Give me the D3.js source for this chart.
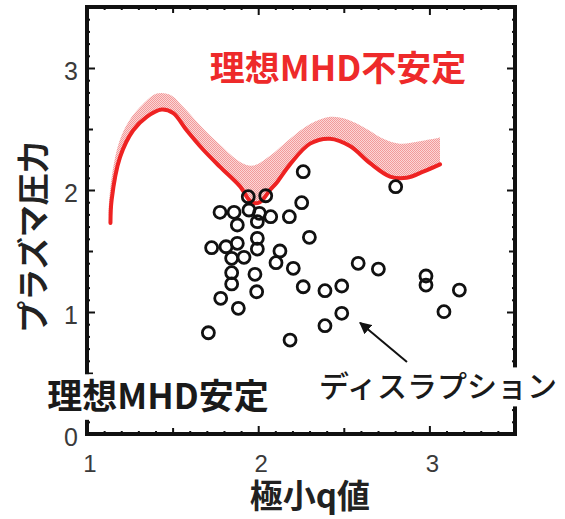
<!DOCTYPE html>
<html><head><meta charset="utf-8">
<script src="https://cdn.jsdelivr.net/npm/d3@7"></script>
<style>body{margin:0;background:#fff}svg{display:block}</style>
</head><body>
<svg id="c" width="565" height="519"></svg>
<script>
// ---- data ----
const lineQ = [1.137, 1.144, 1.193, 1.270, 1.349, 1.436, 1.504, 1.582, 1.679, 1.777, 1.894, 1.960, 2.010, 2.069, 2.108, 2.186, 2.303, 2.419, 2.536, 2.653, 2.770, 2.867, 2.964, 3.062];
const lineP = [1.73, 1.92, 2.27, 2.49, 2.60, 2.66, 2.63, 2.49, 2.33, 2.19, 2.03, 1.90, 1.90, 2.00, 2.06, 2.21, 2.38, 2.42, 2.36, 2.22, 2.11, 2.10, 2.15, 2.21];
const bandQ = [1.137, 1.127, 1.131, 1.150, 1.189, 1.247, 1.325, 1.407, 1.485, 1.563, 1.660, 1.777, 1.894, 1.971, 2.069, 2.186, 2.303, 2.419, 2.517, 2.634, 2.731, 2.828, 2.945, 3.062];
const bandP = [1.73, 1.80, 1.94, 2.16, 2.40, 2.57, 2.70, 2.79, 2.78, 2.68, 2.53, 2.37, 2.23, 2.20, 2.28, 2.42, 2.54, 2.60, 2.58, 2.50, 2.42, 2.38, 2.40, 2.43];
const shotQ = [2.263, 1.942, 2.044, 2.254, 1.777, 1.859, 1.946, 2.007, 2.073, 2.182, 1.878, 1.995, 2.299, 1.728, 1.812, 1.878, 1.995, 1.995, 1.845, 1.917, 2.127, 2.104, 2.205, 1.845, 1.981, 1.845, 1.991, 2.263, 2.390, 2.488, 1.781, 1.884, 2.488, 2.390, 1.709, 2.186, 2.584, 2.702, 2.803, 2.980, 2.980, 3.175, 3.085];
const shotP = [2.150, 1.945, 1.953, 1.896, 1.817, 1.817, 1.836, 1.809, 1.781, 1.781, 1.713, 1.740, 1.612, 1.527, 1.535, 1.563, 1.604, 1.516, 1.440, 1.448, 1.500, 1.404, 1.358, 1.322, 1.309, 1.230, 1.166, 1.207, 1.175, 1.213, 1.112, 1.030, 0.989, 0.888, 0.830, 0.770, 1.399, 1.352, 2.027, 1.295, 1.221, 1.180, 1.003];
const xTickLabels = ["1", "2", "3"];
const yTickLabels = ["0", "1", "2", "3"];
const xTitle = "極小q値";
const yTitle = "プラズマ圧力";
const unstableLabel = "理想MHD不安定";
const stableLabel = "理想MHD安定";
const disruptLabel = "ディスラプション";
const arrowQ = [2.869, 2.595];
const arrowP = [0.590, 0.912];

// ---- layout ----
const L = 87, T = 7, W = 428, H = 427;
const svg = d3.select("#c");
const x = d3.scaleLinear().domain([1, 3.5]).range([L, L + W]);
const y = d3.scaleLinear().domain([0, 3.5]).range([T + H, T]);

const defs = svg.append("defs");
const pat = defs.append("pattern").attr("id", "hatch").attr("width", 2).attr("height", 2).attr("patternUnits", "userSpaceOnUse");
pat.append("rect").attr("width", 2).attr("height", 2).attr("fill", "#fbd6d6");
pat.append("rect").attr("width", 1).attr("height", 1).attr("fill", "#f29a9a");
pat.append("rect").attr("x", 1).attr("y", 1).attr("width", 1).attr("height", 1).attr("fill", "#f29a9a");
defs.append("marker").attr("id", "ah").attr("viewBox", "0 0 10 10").attr("refX", 9).attr("refY", 5)
  .attr("markerWidth", 6).attr("markerHeight", 6).attr("orient", "auto")
  .append("path").attr("d", "M0,0L10,5L0,10z").attr("fill", "#111");

const linePts = lineQ.map((q, i) => [x(q), y(lineP[i])]);
const bandPts = bandQ.map((q, i) => [x(q), y(bandP[i])]);
const gen = d3.line().curve(d3.curveCatmullRom.alpha(0.5));
const up = gen(bandPts);
const lowRev = gen(linePts.slice().reverse()).replace(/^M/, "L");
svg.append("path").attr("d", up + lowRev + "Z").attr("fill", "url(#hatch)").attr("stroke", "none");
svg.append("path").attr("d", gen(linePts)).attr("fill", "none").attr("stroke", "#ee2222").attr("stroke-width", 4).attr("stroke-linecap", "round");

// points
svg.append("g").selectAll("circle").data(shotQ.map((q, i) => [q, shotP[i]])).join("circle")
  .attr("cx", d => x(d[0])).attr("cy", d => y(d[1])).attr("r", 6)
  .attr("fill", "none").attr("stroke", "#111").attr("stroke-width", 2.8);

// axes with inward ticks
function tlen(v) {
  const r1 = Math.abs(v - Math.round(v)) < 1e-6;
  const r5 = Math.abs(v * 2 - Math.round(v * 2)) < 1e-6;
  return r1 ? 8 : (r5 ? 6 : 3);
}
const xt = d3.range(10, 36).map(v => v / 10);
const yt = d3.range(0, 36).map(v => v / 10);
function styleAxis(g, horiz, sign) {
  g.select(".domain").remove();
  g.selectAll("text").remove();
  g.selectAll(".tick line").each(function(d) {
    const s = d3.select(this);
    if (horiz) s.attr("y2", sign * tlen(d)); else s.attr("x2", sign * tlen(d));
  }).attr("stroke", "#111").attr("stroke-width", 2);
}
svg.append("g").attr("transform", `translate(0,${T + H})`).call(d3.axisBottom(x).tickValues(xt)).call(g => styleAxis(g, true, -1));
svg.append("g").attr("transform", `translate(0,${T})`).call(d3.axisTop(x).tickValues(xt)).call(g => styleAxis(g, true, 1));
svg.append("g").attr("transform", `translate(${L},0)`).call(d3.axisLeft(y).tickValues(yt)).call(g => styleAxis(g, false, 1));
svg.append("g").attr("transform", `translate(${L + W},0)`).call(d3.axisRight(y).tickValues(yt)).call(g => styleAxis(g, false, -1));
svg.append("rect").attr("x", L).attr("y", T).attr("width", W).attr("height", H)
  .attr("fill", "none").attr("stroke", "#111").attr("stroke-width", 4);

// tick labels
const tf = "'Liberation Sans', Arial, sans-serif";
svg.append("g").selectAll("text").data(xTickLabels).join("text")
  .attr("x", d => x(+d) + 3).attr("y", 464).attr("dy", "0.35em").attr("text-anchor", "middle")
  .attr("font-family", tf).attr("font-size", 24).attr("fill", "#3a3a3a").text(d => d);
svg.append("g").selectAll("text").data(yTickLabels).join("text")
  .attr("x", 78).attr("y", d => y(+d) + 3).attr("dy", "0.35em").attr("text-anchor", "end")
  .attr("font-family", tf).attr("font-size", 25).attr("fill", "#3a3a3a").text(d => d);

// titles
const jf = "'Noto Sans CJK JP', sans-serif";
svg.append("text").attr("x", 310).attr("y", 508).attr("text-anchor", "middle")
  .attr("font-family", jf).attr("font-weight", 700).attr("font-size", 33).attr("fill", "#222").text(xTitle);
svg.append("text").attr("transform", "translate(33,237) rotate(-90)").attr("dy", "0.36em").attr("text-anchor", "middle")
  .attr("font-family", jf).attr("font-weight", 700).attr("font-size", 32).attr("fill", "#222").text(yTitle);

// annotations
svg.append("text").attr("x", 338).attr("y", 68).attr("dy", "0.36em").attr("text-anchor", "middle")
  .attr("font-family", jf).attr("font-weight", 700).attr("font-size", 35).attr("fill", "#ee2a2a").text(unstableLabel);

function boxed(label, cx, cy, size, weight) {
  const g = svg.append("g");
  const t = g.append("text").attr("x", cx).attr("y", cy).attr("dy", "0.36em").attr("text-anchor", "middle")
    .attr("font-family", jf).attr("font-weight", weight).attr("font-size", size).attr("fill", "#1a1a1a").text(label);
  const b = t.node().getBBox();
  g.insert("rect", "text").attr("x", b.x - 3).attr("y", cy - size * 0.62).attr("width", b.width + 6).attr("height", size * 1.3).attr("fill", "#fff");
}
boxed(stableLabel, 158, 396, 35, 700);
boxed(disruptLabel, 438, 386, 30, 500);

svg.append("line").attr("x1", x(arrowQ[0])).attr("y1", y(arrowP[0])).attr("x2", x(arrowQ[1])).attr("y2", y(arrowP[1]))
  .attr("stroke", "#111").attr("stroke-width", 2).attr("marker-end", "url(#ah)");
</script>
</body></html>
